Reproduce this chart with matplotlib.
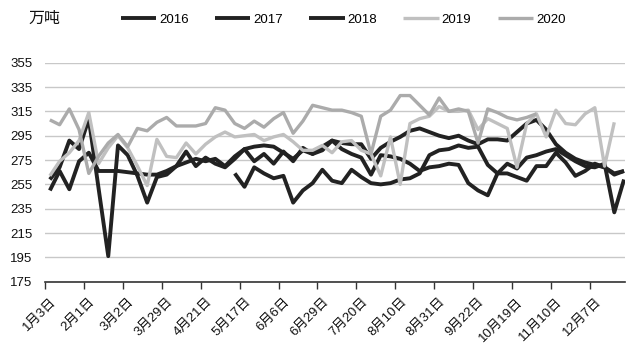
import numpy as np
import matplotlib
matplotlib.use('Agg')
import matplotlib.pyplot as plt
from matplotlib.ticker import FixedLocator

plt.rcParams['font.family'] = ['Liberation Sans', 'Noto Sans CJK SC']

nan = np.nan
unit_label = '万吨'
tick_labels = ['1月3日', '2月1日', '3月2日', '3月29日', '4月21日', '5月17日', '6月6日',
               '6月29日', '7月20日', '8月10日', '8月31日', '9月22日', '10月19日',
               '11月10日', '12月7日']
years = ['2016', '2017', '2018', '2019', '2020']

s2016 = [nan] * 19 + [264, 253, 269, 264, 260, 262, 240, 250, 256, 267,
                      258, 256, 267, 261, 256, 255, 256, 259, 260, 264,
                      279, 283, 284, 287, 285, 286, 271, 264, 264, 261,
                      258, 270, 270, 281, 273, 262, 266, 272, 269, 264, 266]
s2017 = [250, 266, 251, 274, 281, 266, 266, 266, 265, 264,
         263, 263, 266, 270, 273, 276, 274, 276, 270, 278,
         284, 286, 287, 286, 281, 276, 283, 280, 283, 291,
         289, 288, 288, 276, 285, 290, 294, 299, 301, 298,
         295, 293, 295, 291, 288, 292, 292, 291, 298, 305,
         308, 300, 288, 281, 276, 273, 271, 269, 263, 266]
s2018 = [259, 269, 291, 284, 309, 252, 196, 287, 279, 262,
         240, 261, 263, 270, 282, 270, 277, 272, 269, 276,
         284, 274, 280, 272, 282, 274, 285, 280, 286, 291,
         284, 280, 277, 263, 279, 278, 276, 272, 266, 269,
         270, 272, 271, 256, 250, 246, 264, 272, 268, 277,
         279, 282, 284, 279, 274, 270, 269, 272, 232, 259]
s2019 = [262, 274, 281, 291, 314, 272, 285, 295, 285, 270,
         254, 292, 278, 277, 289, 280, 288, 294, 298, 294,
         295, 296, 291, 294, 296, 290, 283, 283, 287, 281,
         290, 291, 283, 280, 262, 294, 255, 305, 309, 311,
         319, 315, 315, 316, 300, 309, 305, 301, 269, 305,
         313, 294, 316, 305, 304, 313, 318, 270, 306, nan]
s2020 = [308, 304, 317, 300, 264, 278, 289, 296, 286, 301,
         299, 306, 310, 303, 303, 303, 305, 318, 316, 305,
         301, 307, 302, 309, 314, 297, 307, 320, 318, 316,
         316, 314, 311, 280, 311, 316, 328, 328, 320, 312,
         326, 315, 317, 315, 289, 317, 314, 310, 308, 310,
         313] + [nan] * 9

series = [s2016, s2017, s2018, s2019, s2020]
colors = ['#222222', '#222222', '#222222', '#c0c0c0', '#ababab']
widths = [2.8, 2.8, 2.8, 2.4, 2.4]

W, H = 636, 356
fig = plt.figure(figsize=(W / 100, H / 100), dpi=100)
ax = fig.add_axes([45 / W, 1 - 281.7 / H, (625 - 45) / W, (281.7 - 62.7) / H])

x = np.arange(len(s2017))
handles = []
for vals, c, lw, name in zip(series, colors, widths, years):
    h, = ax.plot(x, np.array(vals, dtype=float), color=c, lw=lw,
                 solid_joinstyle='round', solid_capstyle='butt', label=name)
    handles.append(h)

ax.set_ylim(175, 355)
ax.set_xlim(-0.5, 59.1)
ax.set_yticks(np.arange(175, 356, 20))
ax.yaxis.grid(True, color='#c8c8c8', lw=1.0)
ax.set_axisbelow(True)
ax.tick_params(axis='y', length=0, pad=9, labelsize=9.5, colors='#111111')

ax.xaxis.set_major_locator(FixedLocator(np.arange(0, 60, 4)))
ax.set_xticklabels(tick_labels, rotation=45, ha='right', rotation_mode='anchor',
                   fontsize=9.5, color='#111111')
ax.xaxis.set_minor_locator(FixedLocator(np.arange(-0.5, 57, 4)))
ax.tick_params(axis='x', which='major', length=0, pad=10)
ax.tick_params(axis='x', which='minor', length=5, width=1.0, color='#333333')

for s in ['left', 'right', 'top']:
    ax.spines[s].set_visible(False)
ax.spines['bottom'].set_color('#333333')
ax.spines['bottom'].set_linewidth(1.2)

fig.text(28 / W, 1 - 18 / H, unit_label, fontsize=11.5, va='center', ha='left',
         color='#111111')
fig.legend(handles=handles, labels=years, ncol=5, loc='center',
           bbox_to_anchor=(343 / W, 1 - 20 / H), frameon=False, fontsize=9.5,
           handlelength=2.7, handletextpad=0.2, columnspacing=2.0)

fig.savefig('out.png', dpi=100)
